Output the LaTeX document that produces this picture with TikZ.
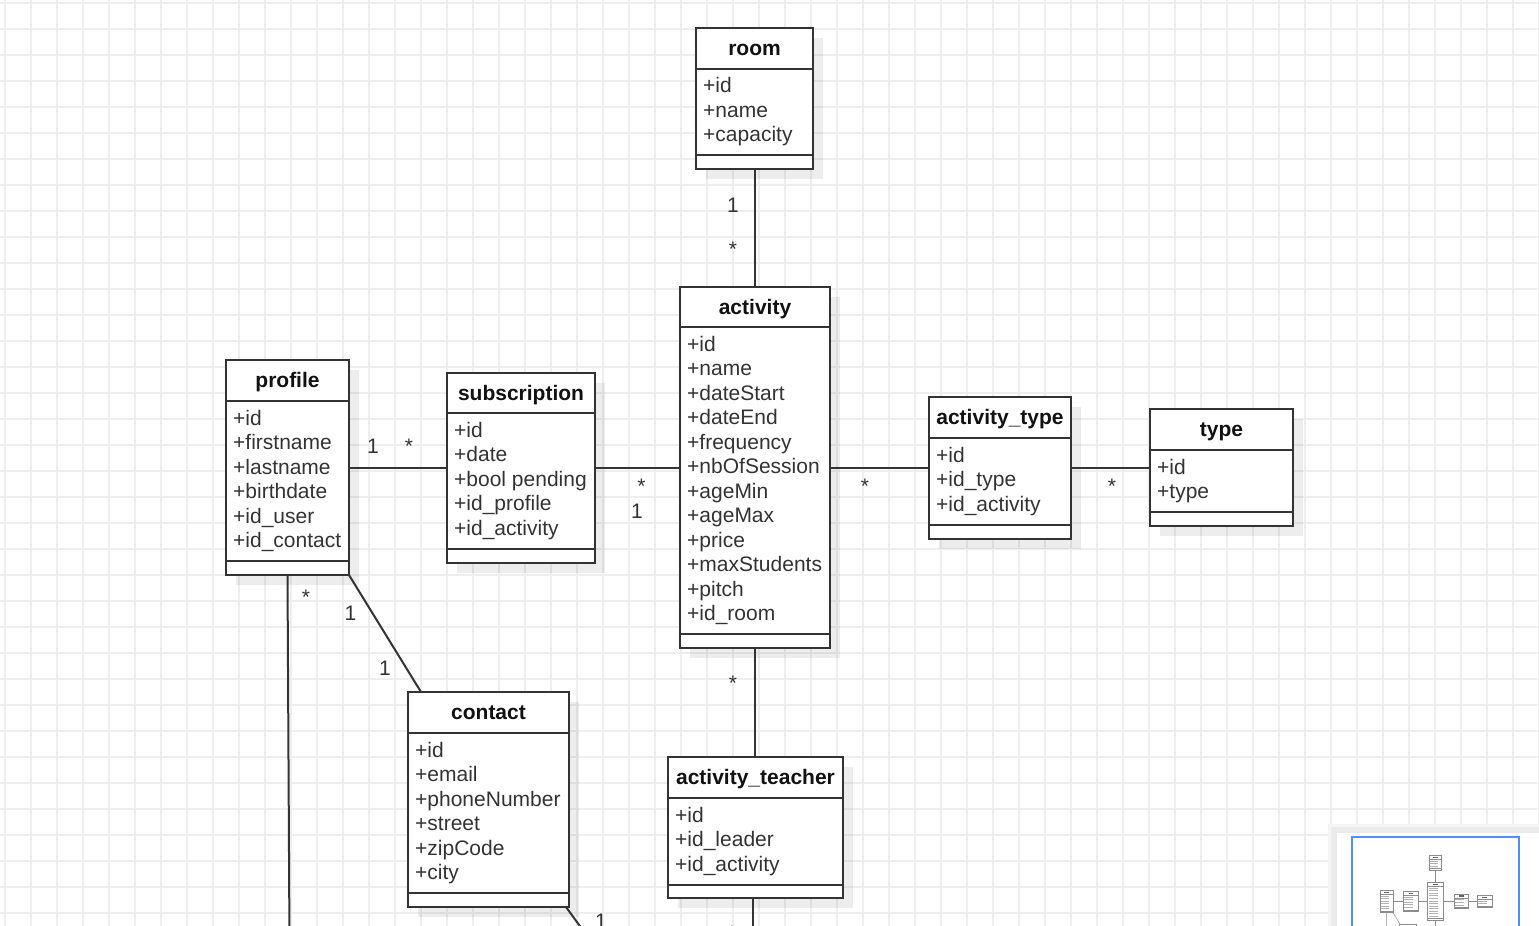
\documentclass[tikz,border=0pt]{standalone}
\usepackage{fontspec}
\setmainfont{Liberation Sans}
\usetikzlibrary{shadows,calc}
\definecolor{lc}{HTML}{333333}
\definecolor{tc}{HTML}{333333}
\definecolor{hc}{HTML}{111111}
\definecolor{gridc}{HTML}{EEEEEE}
\definecolor{viewblue}{HTML}{4D90FE}
\newcommand{\umlclass}[9]{%
  \node[classbox, minimum width=#4pt, minimum height=#5pt] (#1) at (#2,#3) {};
  \draw[divline] ([yshift=-#6pt]#1.north west) -- ([yshift=-#6pt]#1.north east);
  \draw[divline] ([yshift=-#7pt]#1.north west) -- ([yshift=-#7pt]#1.north east);
  \node[titletext] (#1-title) at ([yshift=-27pt]#1.north) {#8};
  \node[attrtext] (#1-attrs) at ([xshift=7pt,yshift=-#6pt-9pt]#1.north west) {#9};
}
\newcommand{\thumbclass}[7]{%
  \draw[black!45, line width=0.5pt, fill=white] (#1,#2) rectangle (#3,#4);
  \draw[black!45, line width=0.4pt] (#1,#5) -- (#3,#5) (#1,#6) -- (#3,#6);
  \draw[black!60, line width=1.1pt] ({(#1+#3)/2-22},{#2+21}) -- ({(#1+#3)/2+22},{#2+21});
  \foreach \r in {1,...,#7}{
    \draw[black!30, line width=0.9pt] ({#1+8},{#5+17+24.5*(\r-1)}) -- ({#1+8+0.6*(#3-#1)},{#5+17+24.5*(\r-1)});
  }
}
\begin{document}
\begin{tikzpicture}[x=1pt,y=-1pt,
  classbox/.style={draw=lc, line width=2pt, fill=white, inner sep=0pt, outer sep=0pt, anchor=north west,
    drop shadow={shadow xshift=10pt, shadow yshift=-10pt, fill=black, opacity=0.07}},
  divline/.style={draw=lc, line width=2pt},
  titletext/.style={font=\fontsize{21}{24.5}\selectfont\bfseries, text=hc, inner sep=0pt, anchor=base},
  attrtext/.style={font=\fontsize{21}{24.5}\selectfont, text=tc, inner sep=0pt, anchor=north west, align=left},
  conn/.style={draw=lc, line width=2pt},
  mult/.style={font=\fontsize{21}{24.5}\selectfont, text=tc, inner sep=0pt, anchor=base},
  gridline/.style={draw=gridc, line width=1.5pt}
]
\useasboundingbox (0,0) rectangle (1539,926);
\clip (0,0) rectangle (1539,926);
\fill[white] (0,0) rectangle (1539,926);
% grid
\foreach \i in {0,...,59}{ \draw[gridline] ({5+26*\i},0) -- ({5+26*\i},926); }
\foreach \j in {0,...,35}{ \draw[gridline] (0,{3+26*\j}) -- (1539,{3+26*\j}); }

% classes
\umlclass{room}{696}{28}{117}{141}{40.5}{127}{room}{+id\\+name\\+capacity}
\umlclass{activity}{680}{287}{150}{361}{40}{347}{activity}{+id\\+name\\+dateStart\\+dateEnd\\+frequency\\+nbOfSession\\+ageMin\\+ageMax\\+price\\+maxStudents\\+pitch\\+id\_room}
\umlclass{profile}{226}{360}{123}{215}{41}{201}{profile}{+id\\+firstname\\+lastname\\+birthdate\\+id\_user\\+id\_contact}
\umlclass{subscription}{447}{373}{148}{190}{40}{176}{subscription}{+id\\+date\\+bool pending\\+id\_profile\\+id\_activity}
\umlclass{acttype}{929}{397}{142}{142}{41}{128}{activity\_type}{+id\\+id\_type\\+id\_activity}
\umlclass{type}{1150}{409}{143}{117}{41}{103}{type}{+id\\+type}
\umlclass{contact}{408}{692}{161}{215}{41}{201}{contact}{+id\\+email\\+phoneNumber\\+street\\+zipCode\\+city}
\umlclass{actteacher}{668}{757}{175}{141}{41}{127.5}{activity\_teacher}{+id\\+id\_leader\\+id\_activity}

% connectors
\coordinate (profdown) at (289.5,945);
\coordinate (contdown) at (590,940);
\coordinate (teachdown) at (752.5,945);
\draw[conn] (room.south) -- (room.south |- activity.north);
\draw[conn] (profile.east) -- (profile.east -| subscription.west);
\draw[conn] (subscription.east) -- (subscription.east -| activity.west);
\draw[conn] (activity.east) -- (activity.east -| acttype.west);
\draw[conn] (acttype.east) -- (acttype.east -| type.west);
\draw[conn] (profile.south east) -- ([xshift=13pt]contact.north west);
\draw[conn] (profile.south) -- (profdown);
\draw[conn] ([xshift=-3pt]contact.south east) -- (contdown);
\draw[conn] (activity.south) -- (activity.south |- actteacher.north);
\draw[conn] ([xshift=-3pt]actteacher.south) -- (teachdown);

% multiplicities
\node[mult] (m1) at (733,212) {1};
\node[mult] (m2) at (733,256) {*};
\node[mult] (m3) at (373,453) {1};
\node[mult] (m4) at (409,453) {*};
\node[mult] (m5) at (641.5,493) {*};
\node[mult] (m6) at (637,518) {1};
\node[mult] (m7) at (865,493) {*};
\node[mult] (m8) at (1112,493) {*};
\node[mult] (m9) at (350.5,620) {1};
\node[mult] (m10) at (385,675.5) {1};
\node[mult] (m11) at (306,604) {*};
\node[mult] (m12) at (601,928) {1};
\node[mult] (m13) at (733,690) {*};
\node[mult] (m14) at (732,940) {*};

% minimap panel
\fill[black!4] (1328,824) rectangle (1545,935);
\fill[black!8] (1331,827) rectangle (1545,935);
\fill[white] (1337,833) rectangle (1545,935);
\begin{scope}
\clip (1353,838) rectangle (1518,935);
\begin{scope}[shift={(1356.25,852.06)}, scale=0.105]
  \draw[black!45, line width=0.5pt] (754.5,169) -- (754.5,287);
  \draw[black!45, line width=0.5pt] (349,467) -- (929,467) (1071,467) -- (1150,467);
  \draw[black!45, line width=0.5pt] (349,575) -- (421,692) (288,575) -- (290,1100);
  \draw[black!45, line width=0.5pt] (755,648) -- (755,757);
  \thumbclass{696}{28}{813}{169}{68.5}{155}{3}
  \thumbclass{680}{287}{830}{648}{327}{634}{12}
  \thumbclass{226}{360}{349}{575}{401}{561}{6}
  \thumbclass{447}{373}{595}{563}{413}{549}{5}
  \thumbclass{929}{397}{1071}{539}{438}{525}{3}
  \thumbclass{1150}{409}{1293}{526}{450}{512}{2}
  \thumbclass{408}{692}{569}{907}{733}{893}{6}
  \thumbclass{668}{757}{843}{898}{798}{884.5}{3}
\end{scope}
\end{scope}
\draw[viewblue, line width=1.5pt] (1352,837) rectangle (1519,945);
\end{tikzpicture}
\end{document}
